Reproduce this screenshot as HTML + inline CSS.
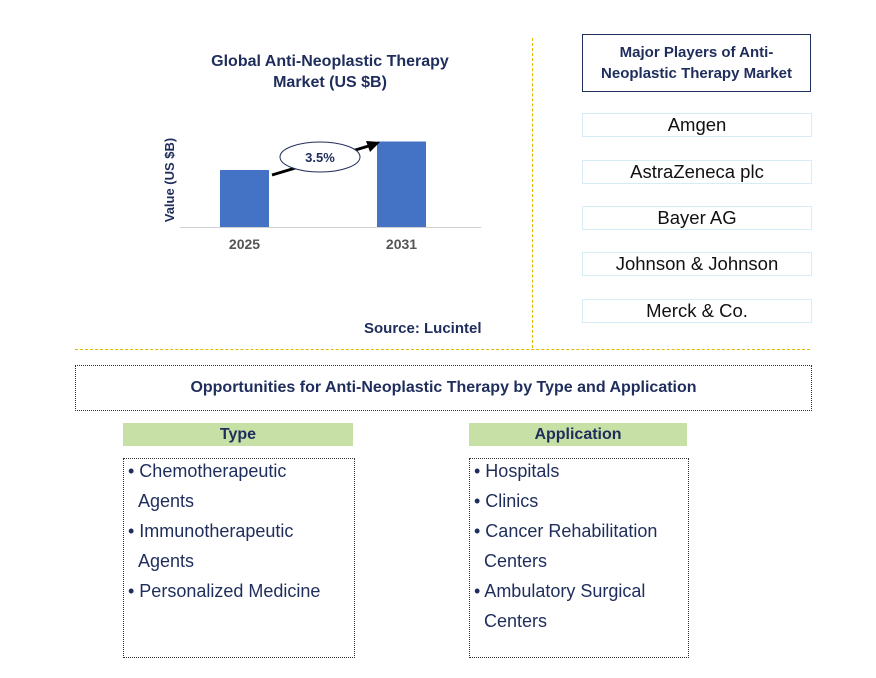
<!DOCTYPE html>
<html><head><meta charset="utf-8"><style>
body{margin:0;width:876px;height:678px;background:#fff;font-family:"Liberation Sans",Arial,sans-serif;position:relative;overflow:hidden}
.a{position:absolute}
.t{color:#1f2d5c;font-weight:bold;text-align:center}
.pl{position:absolute;left:582px;width:228px;height:22px;border:1.5px solid #d6ecf7;text-align:center;font-size:18.5px;line-height:22px;color:#111}
.list{position:absolute;border:1px dotted #333;font-size:18px;line-height:30px;color:#1f2d5c;padding:0 4px}
.hdr{position:absolute;background:#c6e0a6;text-align:center;font-weight:bold;font-size:16px;line-height:23px;color:#1f2d5c;height:23px}
</style></head><body>
<div class="a t" style="left:190px;top:51px;width:280px;font-size:16px;line-height:21px">Global Anti-Neoplastic Therapy Market (US $B)</div>
<svg class="a" style="left:0;top:0" width="520" height="270">
<text x="174" y="180" transform="rotate(-90 174 180)" text-anchor="middle" font-size="13" font-weight="bold" fill="#1f2d5c" font-family="Liberation Sans">Value (US $B)</text>
<line x1="180" y1="227.5" x2="481" y2="227.5" stroke="#d0d0d0"/>
<g id="bars"></g>
<line x1="272" y1="175" x2="372" y2="145" stroke="#000" stroke-width="3"/>
<polygon points="380,142 366,141 370,152" fill="#000"/>
<ellipse cx="320" cy="157" rx="40" ry="15" fill="#fff" stroke="#1f2d5c"/>
<text x="320" y="162" text-anchor="middle" font-size="13" font-weight="bold" fill="#1f2d5c" font-family="Liberation Sans">3.5%</text>
</svg>
<script>
const categories=["2025","2031"];
const values=[2.0,3.0];
const g=document.getElementById('bars');const ns="http://www.w3.org/2000/svg";
const xPos=i=>220+i*157, y=v=>227-v*28.5;
categories.forEach((c,i)=>{
const r=document.createElementNS(ns,'rect');
r.setAttribute('x',xPos(i));r.setAttribute('y',y(values[i]));r.setAttribute('width',49);r.setAttribute('height',227-y(values[i]));r.setAttribute('fill','#4472c4');


g.appendChild(r);
const t=document.createElementNS(ns,'text');
t.setAttribute('x',xPos(i)+24.5);t.setAttribute('y',249);t.setAttribute('text-anchor','middle');t.setAttribute('font-size','14');t.setAttribute('font-weight','bold');t.setAttribute('fill','#555');t.setAttribute('font-family','Liberation Sans');
t.textContent=c;


g.appendChild(t);
});
</script>
<div class="a t" style="left:364px;top:320px;font-size:15px;color:#1f2d5c">Source: Lucintel</div>
<div class="a" style="left:532px;top:38px;height:310px;border-left:1px dashed #e0b800"></div>
<div class="a" style="left:75px;top:349px;width:735px;border-top:1px dashed #e0b800"></div>
<div class="a t" style="left:582px;top:34px;width:227px;height:56px;border:1.5px solid #1f2d5c;font-size:15px;line-height:21px;display:flex;align-items:center;justify-content:center"><div>Major Players of Anti-<br>Neoplastic Therapy Market</div></div>
<div class="pl" style="top:113px">Amgen</div>
<div class="pl" style="top:160px">AstraZeneca plc</div>
<div class="pl" style="top:206px">Bayer AG</div>
<div class="pl" style="top:252px">Johnson &amp; Johnson</div>
<div class="pl" style="top:299px">Merck &amp; Co.</div>
<div class="a t" style="left:75px;top:365px;width:735px;height:44px;border:1px dotted #333;font-size:16px;line-height:44px">Opportunities for Anti-Neoplastic Therapy by Type and Application</div>
<div class="hdr" style="left:123px;top:423px;width:230px">Type</div>
<div class="hdr" style="left:469px;top:423px;width:218px">Application</div>
<div class="list" style="left:123px;top:458px;width:222px;height:198px"><div style="margin-top:-3px">• Chemotherapeutic<br>&nbsp;&nbsp;Agents<br>• Immunotherapeutic<br>&nbsp;&nbsp;Agents<br>• Personalized Medicine</div></div>
<div class="list" style="left:469px;top:458px;width:210px;height:198px"><div style="margin-top:-3px">• Hospitals<br>• Clinics<br>• Cancer Rehabilitation<br>&nbsp;&nbsp;Centers<br>• Ambulatory Surgical<br>&nbsp;&nbsp;Centers</div></div>
</body></html>
